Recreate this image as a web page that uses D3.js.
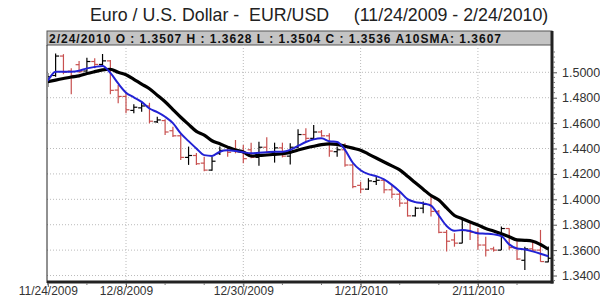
<!DOCTYPE html>
<html>
<head>
<meta charset="utf-8">
<script src="https://cdn.jsdelivr.net/npm/d3@7"></script>
<style>
  body { margin: 0; background: #fff; }
  svg text { font-family: "Liberation Sans", Arial, sans-serif; }
</style>
</head>
<body>
<svg width="600" height="297"></svg>
<script>
const dates = ['11/24/2009','11/25/2009','11/26/2009','11/27/2009','11/30/2009','12/1/2009','12/2/2009','12/3/2009','12/4/2009',
  '12/7/2009','12/8/2009','12/9/2009','12/10/2009','12/11/2009','12/14/2009','12/15/2009','12/16/2009','12/17/2009','12/18/2009',
  '12/21/2009','12/22/2009','12/23/2009','12/24/2009','12/28/2009','12/29/2009','12/30/2009','12/31/2009',
  '1/4/2010','1/5/2010','1/6/2010','1/7/2010','1/8/2010','1/11/2010','1/12/2010','1/13/2010','1/14/2010','1/15/2010',
  '1/18/2010','1/19/2010','1/20/2010','1/21/2010','1/22/2010','1/25/2010','1/26/2010','1/27/2010','1/28/2010','1/29/2010',
  '2/1/2010','2/2/2010','2/3/2010','2/4/2010','2/5/2010','2/8/2010','2/9/2010','2/10/2010','2/11/2010','2/12/2010',
  '2/15/2010','2/16/2010','2/17/2010','2/18/2010','2/19/2010','2/22/2010','2/23/2010','2/24/2010'];

const open = [1.4960,1.4975,1.5128,1.5010,1.5060,1.5010,1.5085,1.5062,1.5090,1.4860,1.4810,1.4700,1.4720,1.4735,1.4610,1.4620,1.4540,1.4500,1.4330,
  1.4345,1.4285,1.4230,1.4360,1.4385,1.4385,1.4370,1.4390,1.4330,1.4410,1.4370,1.4405,1.4340,1.4410,1.4510,1.4480,1.4530,1.4500,
  1.4375,1.4390,1.4270,1.4110,1.4080,1.4140,1.4150,1.4075,1.4040,1.3970,1.3870,1.3930,1.3960,1.3905,1.3740,1.3680,1.3655,1.3750,
  1.3740,1.3640,1.3610,1.3600,1.3770,1.3615,1.3520,1.3610,1.3600,1.3507];
const high = [1.4995,1.5148,1.5143,1.5031,1.5089,1.5115,1.5110,1.5144,1.5097,1.4900,1.4847,1.4748,1.4769,1.4760,1.4650,1.4630,1.4572,1.4520,1.4415,
  1.4365,1.4336,1.4336,1.4415,1.4415,1.4467,1.4428,1.4446,1.4454,1.4488,1.4446,1.4446,1.4441,1.4551,1.4559,1.4585,1.4546,1.4520,
  1.4415,1.4441,1.4284,1.4139,1.4166,1.4178,1.4152,1.4113,1.4060,1.3995,1.3942,1.3982,1.4021,1.3916,1.3759,1.3733,1.3838,1.3812,
  1.3772,1.3706,1.3627,1.3785,1.3772,1.3680,1.3627,1.3680,1.3759,1.3628];
const low = [1.4885,1.4965,1.4985,1.4827,1.4992,1.5005,1.5031,1.5044,1.4827,1.4756,1.4677,1.4677,1.4690,1.4598,1.4600,1.4507,1.4490,1.4310,1.4271,
  1.4271,1.4220,1.4225,1.4349,1.4336,1.4362,1.4284,1.4323,1.4265,1.4362,1.4289,1.4330,1.4275,1.4405,1.4454,1.4475,1.4493,1.4336,
  1.4336,1.4257,1.4087,1.4048,1.4074,1.4113,1.4048,1.4008,1.3942,1.3864,1.3865,1.3890,1.3864,1.3733,1.3590,1.3627,1.3654,1.3680,
  1.3602,1.3549,1.3588,1.3600,1.3602,1.3523,1.3444,1.3588,1.3509,1.3504];
const close = [1.4965,1.5128,1.5000,1.4975,1.5005,1.5085,1.5062,1.5090,1.4858,1.4810,1.4705,1.4725,1.4735,1.4615,1.4625,1.4530,1.4500,1.4330,1.4345,
  1.4280,1.4230,1.4300,1.4385,1.4370,1.4375,1.4320,1.4330,1.4410,1.4370,1.4405,1.4340,1.4410,1.4510,1.4480,1.4530,1.4500,1.4380,
  1.4390,1.4270,1.4100,1.4080,1.4145,1.4150,1.4075,1.4040,1.3970,1.3870,1.3930,1.3960,1.3905,1.3740,1.3670,1.3655,1.3755,1.3740,
  1.3640,1.3600,1.3600,1.3770,1.3620,1.3530,1.3610,1.3600,1.3510,1.3536];

// black line (A10SMA) and blue line
const sma10 = [1.4927,1.4939,1.4951,1.4963,1.4972,1.4990,1.5005,1.5019,1.5024,1.5000,1.4981,1.4945,1.4907,1.4871,1.4820,1.4768,1.4707,1.4646,1.4590,
  1.4535,1.4505,1.4461,1.4437,1.4411,1.4388,1.4373,1.4341,1.4345,1.4349,1.4354,1.4359,1.4370,1.4388,1.4404,1.4418,1.4430,1.4436,
  1.4432,1.4418,1.4403,1.4387,1.4356,1.4325,1.4294,1.4263,1.4232,1.4182,1.4130,1.4080,1.4030,1.3995,1.3932,1.3873,1.3847,1.3822,
  1.3798,1.3770,1.3751,1.3729,1.3705,1.3680,1.3677,1.3670,1.3644,1.3607];
const smaShort = [1.4932,1.5005,1.5005,1.5005,1.5012,1.5031,1.5042,1.5050,1.4995,1.4912,1.4840,1.4803,1.4767,1.4715,1.4686,1.4650,1.4600,1.4519,1.4458,
  1.4400,1.4348,1.4342,1.4375,1.4386,1.4381,1.4371,1.4362,1.4366,1.4371,1.4375,1.4375,1.4389,1.4420,1.4451,1.4472,1.4480,1.4457,
  1.4452,1.4390,1.4288,1.4229,1.4198,1.4183,1.4157,1.4114,1.4062,1.4001,1.3978,1.3968,1.3950,1.3872,1.3790,1.3752,1.3759,1.3750,
  1.3732,1.3729,1.3724,1.3710,1.3645,1.3612,1.3605,1.3590,1.3572,1.3552];

const xLabels = ['11/24/2009','12/8/2009','12/30/2009','1/21/2010','2/11/2010'];
const yTicks = [1.34,1.36,1.38,1.40,1.42,1.44,1.46,1.48,1.50];

const svg = d3.select("svg");
const pLeft = 47, pRight = 552, pTop = 45, pBottom = 282;

const x = d3.scalePoint().domain(dates).range([47.8, 548.3]);
const y = d3.scaleLinear().domain([1.3349, 1.5215]).range([pBottom, pTop]);

// title
svg.append("text")
  .attr("x", 90).attr("y", 21)
  .attr("font-size", 17.8).attr("fill", "#222")
  .style("white-space", "pre")
  .text("Euro / U.S. Dollar -  EUR/USD     (11/24/2009 - 2/24/2010)");

// header bar
const n = dates.length - 1;
svg.append("rect")
  .attr("x", pLeft).attr("y", 31).attr("width", pRight - pLeft).attr("height", pTop - 31)
  .attr("fill", "#c4c4c4").attr("stroke", "#555").attr("stroke-width", 1);
svg.append("text")
  .attr("x", pLeft + 2).attr("y", 42.5)
  .attr("font-size", 12).attr("font-weight", "bold").attr("fill", "#111")
  .attr("textLength", 452).attr("lengthAdjust", "spacing")
  .text(`${dates[n]} O : ${open[n].toFixed(4)} H : ${high[n].toFixed(4)} L : ${low[n].toFixed(4)} C : ${close[n].toFixed(4)} A10SMA: ${sma10[n].toFixed(4)}`);

// grid
const grid = svg.append("g").attr("stroke", "#bbb").attr("stroke-dasharray", "1,2");
grid.selectAll("line.h").data(yTicks).join("line")
  .attr("x1", pLeft).attr("x2", pRight)
  .attr("y1", d => y(d)).attr("y2", d => y(d));
grid.selectAll("line.v").data(xLabels.slice(1)).join("line")
  .attr("x1", d => x(d)).attr("x2", d => x(d))
  .attr("y1", pTop).attr("y2", pBottom);

// clip
svg.append("clipPath").attr("id", "plot")
  .append("rect").attr("x", pLeft + 1).attr("y", pTop).attr("width", pRight - pLeft - 2).attr("height", pBottom - pTop);
const plot = svg.append("g").attr("clip-path", "url(#plot)");

// OHLC bars
const bars = plot.append("g").selectAll("g").data(dates).join("g")
  .attr("stroke", (d, i) => close[i] >= open[i] ? "#000" : "#c8504f")
  .attr("stroke-width", 1.2);
bars.append("line")
  .attr("x1", d => x(d)).attr("x2", d => x(d))
  .attr("y1", (d, i) => y(high[i])).attr("y2", (d, i) => y(low[i]));
bars.append("line")
  .attr("x1", d => x(d) - 3.5).attr("x2", d => x(d))
  .attr("y1", (d, i) => y(open[i])).attr("y2", (d, i) => y(open[i]));
bars.append("line")
  .attr("x1", d => x(d)).attr("x2", d => x(d) + 3.5)
  .attr("y1", (d, i) => y(close[i])).attr("y2", (d, i) => y(close[i]));

// moving averages
const line = arr => d3.line().x(d => x(d)).y((d, i) => y(arr[i])).curve(d3.curveMonotoneX)(dates);
plot.append("path").attr("d", line(sma10))
  .attr("fill", "none").attr("stroke", "#000").attr("stroke-width", 3.2);
plot.append("path").attr("d", line(smaShort))
  .attr("fill", "none").attr("stroke", "#2222d4").attr("stroke-width", 2);

// frame
svg.append("line").attr("x1", pLeft).attr("x2", pLeft).attr("y1", pTop).attr("y2", pBottom + 1)
  .attr("stroke", "#222").attr("stroke-width", 1);
svg.append("line").attr("x1", pLeft).attr("x2", pRight + 1.5).attr("y1", pBottom).attr("y2", pBottom)
  .attr("stroke", "#222").attr("stroke-width", 3);
svg.append("line").attr("x1", pRight).attr("x2", pRight).attr("y1", 31).attr("y2", pBottom + 1.5)
  .attr("stroke", "#222").attr("stroke-width", 3);

// right axis
const yAxis = d3.axisRight(y).tickValues(yTicks).tickFormat(d3.format(".4f")).tickSize(4);
const ya = svg.append("g").attr("transform", `translate(${pRight + 1},0)`).call(yAxis);
ya.select(".domain").remove();
ya.selectAll("text").attr("x", 9).attr("font-size", 12.5).attr("fill", "#333")
  .style("font-family", "'Liberation Sans', Arial, sans-serif");
ya.selectAll("line").attr("stroke", "#555");
const minor = d3.range(1.336, 1.52, 0.004).filter(v => !yTicks.some(t => Math.abs(t - v) < 1e-6));
svg.append("g").selectAll("line").data(minor).join("line")
  .attr("x1", pRight + 1).attr("x2", pRight + 3)
  .attr("y1", d => y(d)).attr("y2", d => y(d)).attr("stroke", "#777");

// bottom axis
const xAxis = d3.axisBottom(x).tickValues(xLabels).tickSize(4);
const xa = svg.append("g").attr("transform", `translate(0,${pBottom + 1})`).call(xAxis);
xa.select(".domain").remove();
xa.selectAll("text").attr("y", 3).attr("font-size", 12).attr("fill", "#333")
  .style("font-family", "'Liberation Sans', Arial, sans-serif");
xa.selectAll("line").attr("stroke", "#555");
svg.append("g").selectAll("line").data(dates.filter((d, i) => i % 5 === 0)).join("line")
  .attr("x1", d => x(d)).attr("x2", d => x(d))
  .attr("y1", pBottom + 1).attr("y2", pBottom + 3).attr("stroke", "#777");
</script>
</body>
</html>
